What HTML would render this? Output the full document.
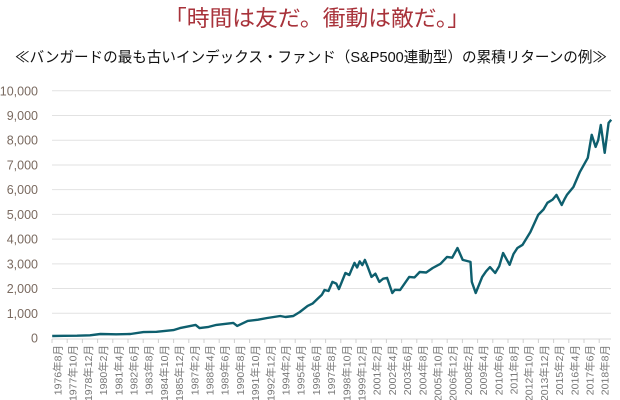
<!DOCTYPE html>
<html><head><meta charset="utf-8">
<style>
html,body{margin:0;padding:0;background:#fff;}
svg{display:block;}
text{font-family:"Liberation Sans","Noto Sans CJK JP",sans-serif;}
</style></head>
<body>
<svg id="chart" width="620" height="400" viewBox="0 0 620 400" xmlns="http://www.w3.org/2000/svg">
  <text x="317" y="26" text-anchor="middle" font-size="22" fill="#a8323a" textLength="306" lengthAdjust="spacingAndGlyphs">「時間は友だ。衝動は敵だ。」</text>
  <text x="311" y="62" text-anchor="middle" font-size="15" fill="#111" textLength="592" lengthAdjust="spacingAndGlyphs">≪バンガードの最も古いインデックス・ファンド（S&amp;P500連動型）の累積リターンの例≫</text>
  <g id="grid"></g>
  <g id="yaxis"></g>
  <g id="xaxis"></g>
  <g id="series"></g>
</svg>
<script>
const years = [1976.6,1977.5,1978.5,1979.5,1980.3,1981.5,1982.6,1983.6,1984.6,1985.9,1986.4,1987.6,1987.9,1988.6,1989.2,1990.5,1990.8,1991.6,1992.4,1993.1,1994.1,1994.5,1995.1,1995.6,1996.2,1996.6,1997.0,1997.3,1997.5,1997.8,1998.1,1998.4,1998.6,1999.1,1999.4,1999.6,1999.8,2000.0,2000.2,2000.4,2000.6,2000.8,2001.1,2001.4,2001.7,2002.0,2002.3,2002.7,2002.9,2003.3,2004.0,2004.4,2004.8,2005.3,2005.8,2006.4,2006.9,2007.3,2007.7,2008.1,2008.7,2008.8,2009.1,2009.6,2009.9,2010.2,2010.6,2010.9,2011.2,2011.7,2012.0,2012.3,2012.7,2013.3,2013.9,2014.3,2014.6,2015.0,2015.3,2015.7,2015.9,2016.1,2016.6,2017.1,2017.7,2018.0,2018.3,2018.5,2018.7,2019.0,2019.3,2019.5];
const values = [80,90,95,110,160,150,160,240,250,320,400,530,400,450,530,610,490,690,740,810,890,850,890,1050,1300,1400,1600,1750,1940,1900,2270,2200,1980,2630,2550,2800,3040,2850,3100,2950,3160,2900,2470,2600,2270,2400,2430,1820,1950,1940,2470,2450,2670,2650,2830,3000,3280,3250,3640,3160,3080,2270,1820,2470,2700,2870,2630,2900,3440,2960,3400,3640,3770,4290,4980,5200,5470,5600,5790,5380,5600,5790,6110,6720,7290,8220,7730,8000,8620,7490,8700,8830];
const yTicks = [0,1000,2000,3000,4000,5000,6000,7000,8000,9000,10000];
const yTickLabels = ["0","1,000","2,000","3,000","4,000","5,000","6,000","7,000","8,000","9,000","10,000"];
const xTickLabels = ["1976年8月","1977年10月","1978年12月","1980年2月","1981年4月","1982年6月","1983年8月","1984年10月","1985年12月","1987年2月","1988年4月","1989年6月","1990年8月","1991年10月","1992年12月","1994年2月","1995年4月","1996年6月","1997年8月","1998年10月","1999年12月","2001年2月","2002年4月","2003年6月","2004年8月","2005年10月","2006年12月","2008年2月","2009年4月","2010年6月","2011年8月","2012年10月","2013年12月","2015年2月","2016年4月","2017年6月","2018年8月"];

const NS="http://www.w3.org/2000/svg";
const X0=52,X1=611,Y0=338,PXK=24.72;
function xs(yr){return X0+(yr-1976.583)*13.03;}
function ys(v){return Y0-v/1000*PXK;}
function mk(tag,attrs,parent){const e=document.createElementNS(NS,tag);for(const k in attrs)e.setAttribute(k,attrs[k]);parent.appendChild(e);return e;}

const grid=document.getElementById('grid'),ya=document.getElementById('yaxis'),xa=document.getElementById('xaxis'),se=document.getElementById('series');
yTicks.forEach((t,i)=>{
  const y=ys(t);
  if(t>0){const g=mk('line',{x1:X0,x2:X1,y1:y,y2:y,stroke:'#e2e2e2','stroke-width':1},grid);
  
  }
  const tx=mk('text',{x:38,y:y+4.5,'text-anchor':'end','font-size':12.5,fill:'#7a6a60'},ya);
  tx.textContent=yTickLabels[i];
  
  
});
const ax=mk('line',{x1:X0,x2:X1,y1:Y0+1,y2:Y0+1,stroke:'#d8d8d8','stroke-width':1},xa);


xTickLabels.forEach((l,i)=>{
  const x=X0+i*15.2;
  const tk=mk('line',{x1:x,x2:x,y1:Y0+1,y2:Y0+5,stroke:'#d0d0d0','stroke-width':1},xa);
  
  
  const tx=mk('text',{x:0,y:0,'text-anchor':'end','font-size':10.5,fill:'#777',transform:`translate(${x+9.5},345) rotate(-90)`},xa);
  tx.textContent=l;
  
  
});
const d=years.map((yr,i)=>(i?'L':'M')+xs(yr).toFixed(1)+','+ys(values[i]).toFixed(1)).join(' ');
const p=mk('path',{d:d,fill:'none',stroke:'#0e5f6e','stroke-width':2.4,'stroke-linejoin':'round'},se);


</script>
</body></html>
